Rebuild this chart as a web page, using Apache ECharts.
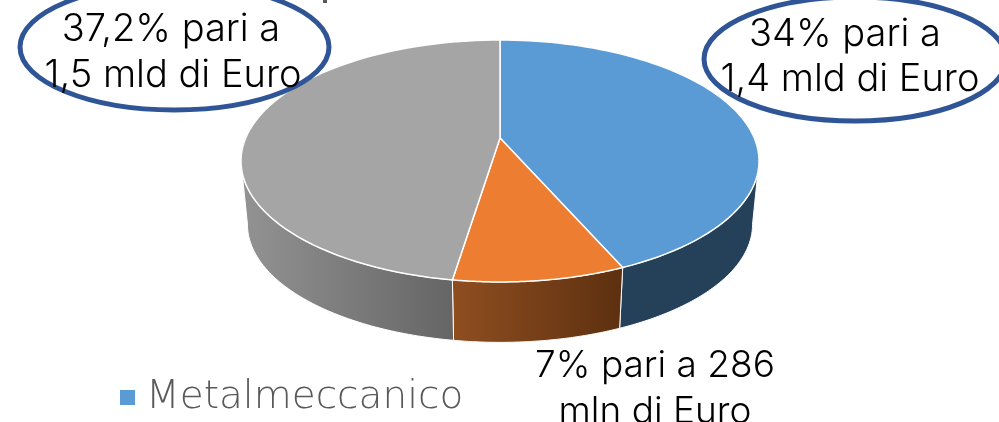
<!DOCTYPE html>
<html>
<head>
<meta charset="utf-8">
<style>
  html, body { margin: 0; padding: 0; background: #fff; overflow: hidden; }
  #chart { width: 999px; height: 422px; }
</style>
<script src="https://cdn.jsdelivr.net/npm/echarts@6/dist/echarts.min.js"></script>
</head>
<body>
<div id="chart"></div>
<script>
const sectorValues = [34, 7, 37.2];
const topColors = ['#5b9bd5', '#ed7d31', '#a5a5a5'];
const wallColors = [
  ['#254059', '#254059'],
  ['#8f4e20', '#5d3010'],
  ['#939393', '#656565']
];
const legendNames = ['Metalmeccanico'];
const leftLabel = ['37,2% pari a', '1,5 mld di Euro'];
const rightLabel = ['34% pari a', '1,4 mld di Euro'];
const bottomLabel = ['7% pari a 286', 'mln di Euro'];

const total = sectorValues.reduce((a, b) => a + b, 0);
const labelFont = 'Inter, "Open Sans", sans-serif';

// perspective pie: the near edge is drawn larger than the far one
const CX = 500, CY = 138, RX = 254.3, RY = 116.6, K = 0.19;
const BASE_Y = 202, BASE_SCALE = 0.975;
// the side wall disappears behind the top where the rim is widest
const WALL_FROM = Math.acos(-K), WALL_TO = Math.PI * 2 - WALL_FROM;

function rim(angle, centerY, scale) {
  const u = Math.sin(angle), v = -Math.cos(angle);
  const d = 1 - K * v;
  return [CX + scale * RX * u / d, centerY + scale * RY * v / d];
}

function sectorRange(index) {
  let before = 0;
  for (let i = 0; i < index; i++) before += sectorValues[i];
  const start = before / total * Math.PI * 2;
  return [start, start + sectorValues[index] / total * Math.PI * 2];
}

function arc(start, end, centerY, scale) {
  const pts = [];
  const steps = 80;
  for (let i = 0; i <= steps; i++) {
    pts.push(rim(start + (end - start) * i / steps, centerY, scale));
  }
  return pts;
}

function renderWall(params) {
  const range = sectorRange(params.dataIndex);
  const start = Math.max(range[0], WALL_FROM);
  const end = Math.min(range[1], WALL_TO);
  const stops = wallColors[params.dataIndex];
  const points = arc(start, end, CY, 1).concat(arc(start, end, BASE_Y, BASE_SCALE).reverse());
  return {
    type: 'polygon',
    shape: { points },
    style: {
      fill: {
        type: 'linear', x: 0, y: 0, x2: 1, y2: 0,
        colorStops: [{ offset: 0, color: stops[0] }, { offset: 1, color: stops[1] }]
      },
      stroke: '#fff',
      lineWidth: 1
    }
  };
}

function renderTop(params) {
  const range = sectorRange(params.dataIndex);
  const points = [[CX, CY]].concat(arc(range[0], range[1], CY, 1));
  return {
    type: 'polygon',
    shape: { points },
    style: { fill: topColors[params.dataIndex], stroke: '#fff', lineWidth: 1.5 }
  };
}

function textLines(lines, centers, baselines, size) {
  return lines.map((line, i) => ({
    type: 'text',
    x: centers[i],
    y: baselines[i],
    z: 20,
    style: {
      text: line,
      fill: '#000',
      font: '300 ' + size + 'px ' + labelFont,
      textAlign: 'center',
      textVerticalAlign: 'bottom'
    }
  }));
}

const chart = echarts.init(document.getElementById('chart'), null, { renderer: 'canvas' });
chart.setOption({
  animation: false,
  backgroundColor: '#fff',
  legend: {
    left: 120,
    top: 378,
    padding: 0,
    itemWidth: 15,
    itemHeight: 15,
    icon: 'rect',
    data: legendNames,
    textStyle: { color: '#595959', fontFamily: '"DejaVu Sans", sans-serif', fontWeight: 200, fontSize: 39, padding: [0, 0, 0, 6] }
  },
  series: [
    {
      type: 'custom',
      name: 'pareti',
      coordinateSystem: 'none',
      z: 1,
      silent: true,
      data: sectorValues,
      renderItem: renderWall
    },
    {
      type: 'custom',
      name: legendNames[0],
      coordinateSystem: 'none',
      z: 2,
      silent: true,
      itemStyle: { color: topColors[0] },
      data: sectorValues,
      renderItem: renderTop
    }
  ],
  graphic: [
    {
      type: 'ellipse',
      z: 10,
      shape: { cx: 174.5, cy: 47, rx: 154.5, ry: 63 },
      style: { fill: 'transparent', stroke: '#2f5597', lineWidth: 5 }
    },
    {
      type: 'ellipse',
      z: 10,
      shape: { cx: 855, cy: 59, rx: 151, ry: 62 },
      style: { fill: 'transparent', stroke: '#2f5597', lineWidth: 5 }
    },
    {
      type: 'rect',
      shape: { x: 323, y: 0, width: 4, height: 3 },
      style: { fill: '#595959' }
    }
  ]
    .concat(textLines(leftLabel, [171, 173], [49, 95], 38))
    .concat(textLines(rightLabel, [845, 850], [54, 99], 38))
    .concat(textLines(bottomLabel, [655, 655], [384, 430], 37))
});
</script>
</body>
</html>
